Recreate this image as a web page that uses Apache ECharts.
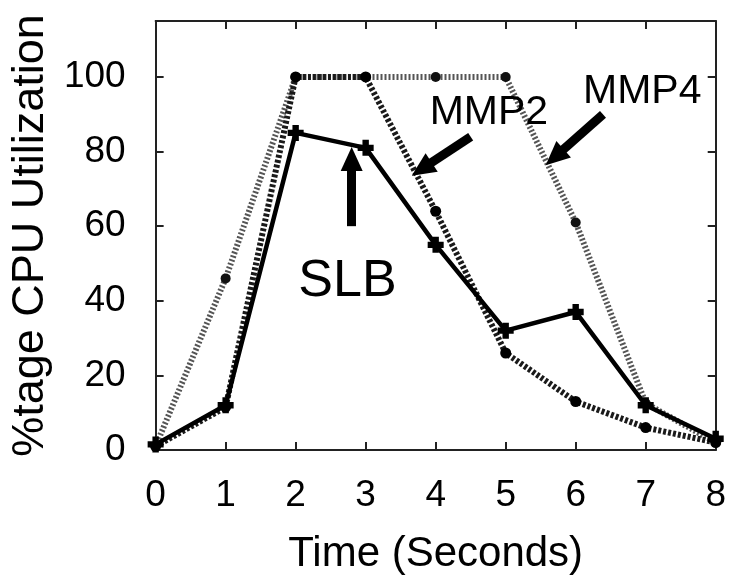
<!DOCTYPE html>
<html><head><meta charset="utf-8">
<script src="https://cdn.jsdelivr.net/npm/echarts@6/dist/echarts.min.js"></script>
<style>html,body{margin:0;padding:0;background:#fff}#c{width:729px;height:580px}</style>
</head><body><div id="c"></div>
<script>
const timeSeconds = [0, 1, 2, 3, 4, 5, 6, 7, 8];
const slb  = [1.5, 12, 85, 81, 55, 32, 37, 12, 3];
const mmp2 = [1, 11.5, 100, 100, 64, 26, 13, 6, 2];
const mmp4 = [1, 46, 100, 100, 100, 100, 61, 12.5, 2];
const yTicks = [0, 20, 40, 60, 80, 100];
const xTicks = [0, 1, 2, 3, 4, 5, 6, 7, 8];

const FONT = 'Liberation Sans, Arial, sans-serif';
const zip = (xs, ys) => xs.map((x, i) => [x, ys[i]]);
const plusPath = 'path://M3,0h4v3h3v4h-3v3h-4v-3h-3v-4h3z';

const axisLine = { show: true, onZero: false, lineStyle: { color: '#222', width: 2 } };
const axisTick = { show: true, inside: true, length: 8, lineStyle: { color: '#222', width: 2 } };

const arrowStyle = { color: '#000', width: 9, type: 'solid' };
function arrow(x1, y1, x2, y2) {
  return [{ coord: [x1, y1], symbol: 'none' }, { coord: [x2, y2], symbol: 'triangle', symbolSize: [22, 24] }];
}
function textMark(x, y, txt, size) {
  return { coord: [x, y], symbol: 'circle', symbolSize: 0,
    label: { show: true, position: 'inside', formatter: txt, fontSize: size, color: '#000', fontFamily: FONT } };
}

const chart = echarts.init(document.getElementById('c'), null, { renderer: 'canvas' });
chart.setOption({
  animation: false,
  backgroundColor: '#fff',
  grid: { left: 155, right: 11, top: 21, bottom: 127, containLabel: false },
  xAxis: [{
    type: 'value', min: 0, max: 8, interval: 1, position: 'bottom',
    axisLine, axisTick, splitLine: { show: false },
    axisLabel: { fontSize: 37, margin: 27, color: '#000', fontFamily: FONT,
      formatter: v => xTicks.includes(v) ? String(v) : '' },
    name: 'Time (Seconds)', nameLocation: 'middle', nameGap: 83,
    nameTextStyle: { fontSize: 42, color: '#000', fontFamily: FONT }
  }, {
    type: 'value', min: 0, max: 8, interval: 1, position: 'top',
    axisLine, axisTick, splitLine: { show: false }, axisLabel: { show: false }
  }],
  yAxis: [{
    type: 'value', min: 0, max: 115, interval: 20, position: 'left',
    axisLine, axisTick, splitLine: { show: false },
    axisLabel: { fontSize: 37, margin: 30, color: '#000', fontFamily: FONT,
      formatter: v => yTicks.includes(v) ? String(v) : '' },
    name: '%tage CPU Utilization', nameLocation: 'middle', nameGap: 102,
    nameTextStyle: { fontSize: 45, color: '#000', fontFamily: FONT }
  }, {
    type: 'value', min: 0, max: 115, interval: 20, position: 'right',
    axisLine, axisTick, splitLine: { show: false }, axisLabel: { show: false }
  }],
  series: [
    {
      name: 'MMP4', type: 'line', data: zip(timeSeconds, mmp4), clip: false, z: 2,
      symbol: 'circle', symbolSize: 10, itemStyle: { color: '#111' },
      lineStyle: { color: '#555', width: 6, type: [2, 2] }
    },
    {
      name: 'MMP2', type: 'line', data: zip(timeSeconds, mmp2), clip: false, z: 3,
      symbol: 'circle', symbolSize: 11, itemStyle: { color: '#000' },
      lineStyle: { color: '#1a1a1a', width: 6, type: [3, 2] }
    },
    {
      name: 'SLB', type: 'line', data: zip(timeSeconds, slb), clip: false, z: 4,
      symbol: plusPath, symbolSize: 16, itemStyle: { color: '#000' },
      lineStyle: { color: '#000', width: 4.5, type: 'solid' },
      markLine: {
        silent: true, animation: false, symbol: ['none', 'triangle'],
        lineStyle: arrowStyle, label: { show: false },
        data: [
          arrow(2.80, 60, 2.80, 78),
          arrow(4.50, 84, 3.80, 75.3),
          arrow(6.39, 90, 5.70, 78.5)
        ]
      },
      markPoint: {
        silent: true, animation: false,
        data: [
          textMark(2.74, 45, 'SLB', 52),
          textMark(4.76, 90.5, 'MMP2', 41),
          textMark(6.95, 96, 'MMP4', 41)
        ]
      }
    }
  ]
});
</script>
</body></html>
